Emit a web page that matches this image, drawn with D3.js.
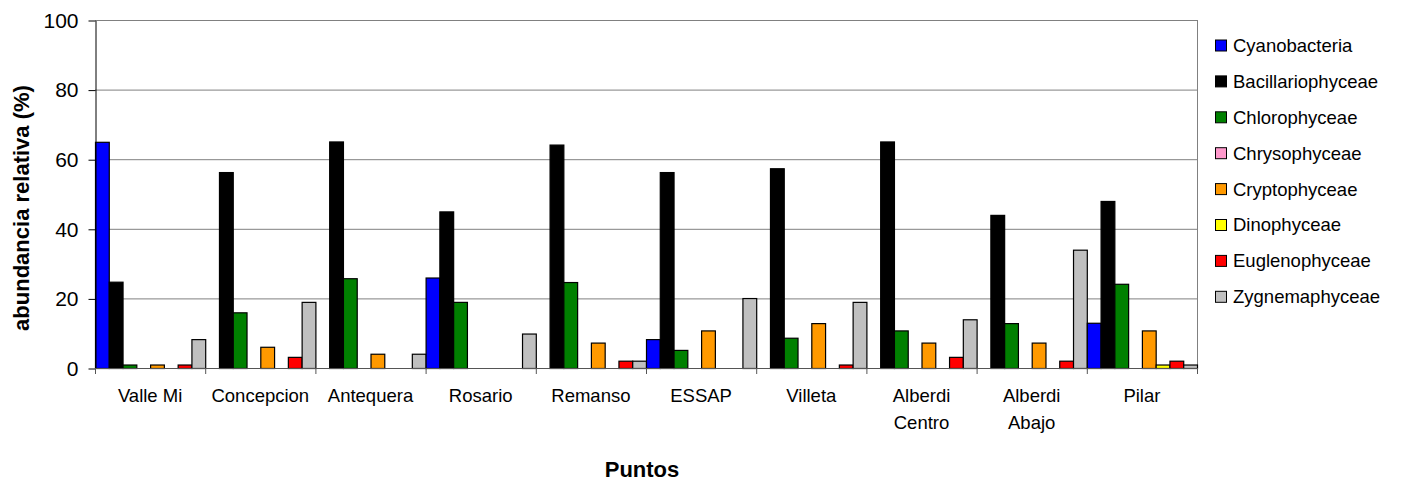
<!DOCTYPE html>
<html>
<head>
<meta charset="utf-8">
<script src="https://cdn.jsdelivr.net/npm/d3@7"></script>
<style>
  html, body { margin: 0; padding: 0; background: #fff; }
  svg { display: block; font-family: "Liberation Sans", Arial, sans-serif; }
</style>
</head>
<body>
<svg id="chart" width="1405" height="486"></svg>
<script>
// Sampling points along the river
const points = [
  ["Valle Mi"], ["Concepcion"], ["Antequera"], ["Rosario"], ["Remanso"],
  ["ESSAP"], ["Villeta"], ["Alberdi", "Centro"], ["Alberdi", "Abajo"], ["Pilar"]
];

// Algal classes (series)
const classes = [
  "Cyanobacteria", "Bacillariophyceae", "Chlorophyceae", "Chrysophyceae",
  "Cryptophyceae", "Dinophyceae", "Euglenophyceae", "Zygnemaphyceae"
];
const classColors = [
  "#0000FF", "#000000", "#008000", "#FF99CC",
  "#FF9900", "#FFFF00", "#FF0000", "#C0C0C0"
];

// Relative abundance (%) per class, one value per sampling point
const cyanobacteria     = [65, 0, 0, 26, 0, 8.3, 0, 0, 0, 13];
const bacillariophyceae = [24.8, 56.3, 65.1, 45, 64.2, 56.3, 57.4, 65.1, 44, 48];
const chlorophyceae     = [1, 16, 25.8, 19, 24.7, 5.2, 8.7, 10.8, 12.9, 24.2];
const chrysophyceae     = [0, 0, 0, 0, 0, 0, 0, 0, 0, 0];
const cryptophyceae     = [1, 6.1, 4.1, 0, 7.3, 10.8, 12.9, 7.3, 7.3, 10.8];
const dinophyceae       = [0, 0, 0, 0, 0, 0, 0, 0, 0, 1];
const euglenophyceae    = [1, 3.2, 0, 0, 2.1, 0, 1, 3.2, 2.1, 2.1];
const zygnemaphyceae    = [8.3, 19, 4.1, 9.9, 2.1, 20.1, 19, 14, 34, 1];

const yTicks = [0, 20, 40, 60, 80, 100];

const seriesValues = [
  cyanobacteria, bacillariophyceae, chlorophyceae, chrysophyceae,
  cryptophyceae, dinophyceae, euglenophyceae, zygnemaphyceae
];

const svg = d3.select("#chart");
const plot = { left: 95, right: 1197, top: 20, bottom: 368 };

const x0 = d3.scaleBand()
  .domain(d3.range(points.length))
  .range([plot.left, plot.right])
  .padding(0);
const x1 = d3.scaleBand()
  .domain(d3.range(classes.length))
  .range([0, x0.bandwidth()])
  .padding(0);
const y = d3.scaleLinear().domain([0, 100]).range([plot.bottom, plot.top]);

// Gridlines
svg.append("g")
  .selectAll("line")
  .data(yTicks.filter(t => t > 0))
  .join("line")
  .attr("x1", plot.left).attr("x2", plot.right)
  .attr("y1", d => y(d) + 0.5).attr("y2", d => y(d) + 0.5)
  .attr("stroke", "#808080").attr("stroke-width", 1);

// Right border of plot area
svg.append("line")
  .attr("x1", plot.right + 0.5).attr("x2", plot.right + 0.5)
  .attr("y1", plot.top).attr("y2", plot.bottom)
  .attr("stroke", "#808080");

// Bars
const groups = svg.append("g")
  .selectAll("g")
  .data(points.map((p, i) => i))
  .join("g")
  .attr("transform", i => `translate(${x0(i)},0)`);

groups.selectAll("rect")
  .data(i => seriesValues.map((vals, s) => ({ s, v: vals[i] })).filter(d => d.v > 0))
  .join("rect")
  .attr("x", d => x1(d.s) + 0.5)
  .attr("width", x1.bandwidth())
  .attr("y", d => y(d.v) + 0.5)
  .attr("height", d => y(0) - y(d.v))
  .attr("fill", d => classColors[d.s])
  .attr("stroke", "#000")
  .attr("stroke-width", 1.2);

// Y axis
const yAxis = svg.append("g")
  .attr("transform", `translate(${plot.left + 0.5},0.5)`)
  .call(d3.axisLeft(y).tickValues(yTicks).tickSize(7).tickPadding(10).tickSizeOuter(0));
yAxis.select(".domain").attr("stroke", "#000");
yAxis.selectAll(".tick line").attr("stroke", "#000");
yAxis.selectAll(".tick text")
  .attr("font-family", "'Liberation Sans', Arial, sans-serif")
  .attr("font-size", 21)
  .attr("fill", "#000");

// X axis: ticks at group boundaries
const boundaries = d3.range(points.length + 1).map(i => plot.left + i * x0.bandwidth());
svg.append("line")
  .attr("x1", plot.left).attr("x2", plot.right + 1)
  .attr("y1", plot.bottom + 0.5).attr("y2", plot.bottom + 0.5)
  .attr("stroke", "#555");
svg.append("g")
  .selectAll("line")
  .data(boundaries)
  .join("line")
  .attr("x1", d => d + 0.5).attr("x2", d => d + 0.5)
  .attr("y1", plot.bottom).attr("y2", plot.bottom + 6)
  .attr("stroke", "#555");

// Category labels
svg.append("g")
  .selectAll("text")
  .data(points)
  .join("text")
  .attr("x", (d, i) => x0(i) + x0.bandwidth() / 2)
  .attr("y", 402)
  .attr("text-anchor", "middle")
  .attr("font-size", 18.5)
  .selectAll("tspan")
  .data(d => d)
  .join("tspan")
  .attr("x", function () { return d3.select(this.parentNode).attr("x"); })
  .attr("dy", (d, j) => j === 0 ? 0 : 27)
  .text(d => d);

// Axis titles
svg.append("text")
  .attr("x", 642).attr("y", 477)
  .attr("text-anchor", "middle")
  .attr("font-size", 22).attr("font-weight", "bold")
  .text("Puntos");

svg.append("text")
  .attr("transform", "translate(29,208) rotate(-90)")
  .attr("text-anchor", "middle")
  .attr("font-size", 22).attr("font-weight", "bold")
  .text("abundancia relativa (%)");

// Legend
const legend = svg.append("g")
  .selectAll("g")
  .data(classes)
  .join("g")
  .attr("transform", (d, i) => `translate(1215,${45.5 + i * 35.9})`);
legend.append("rect")
  .attr("x", 0.5).attr("y", -5.5)
  .attr("width", 11).attr("height", 11)
  .attr("fill", (d, i) => classColors[i])
  .attr("stroke", "#000");
legend.append("text")
  .attr("x", 18).attr("y", 0)
  .attr("dy", "0.35em")
  .attr("font-size", 18.5)
  .text(d => d);
</script>
</body>
</html>
